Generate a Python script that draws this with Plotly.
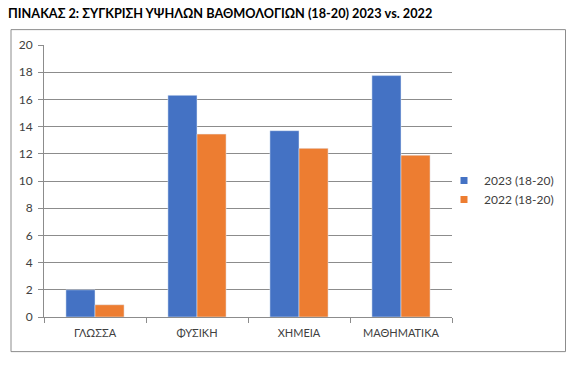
import plotly.graph_objects as go

categories = ["ΓΛΩΣΣΑ", "ΦΥΣΙΚΗ", "ΧΗΜΕΙΑ", "ΜΑΘΗΜΑΤΙΚΑ"]
series_2023 = [2.0, 16.3, 13.7, 17.75]
series_2022 = [0.9, 13.45, 12.4, 11.9]
name_2023 = "2023 (18-20)"
name_2022 = "2022 (18-20)"
y_ticks = [0, 2, 4, 6, 8, 10, 12, 14, 16, 18, 20]
title_text = "ΠΙΝΑΚΑΣ 2: ΣΥΓΚΡΙΣΗ ΥΨΗΛΩΝ ΒΑΘΜΟΛΟΓΙΩΝ (18-20) 2023 vs. 2022"

FONT = "Lato, 'Open Sans', sans-serif"
BLUE, ORANGE = "#4472C4", "#ED7D31"
W, H = 577, 366
L, R, T, B = 44, 452, 44.7, 317.3

fig = go.Figure()
fig.add_trace(go.Bar(x=categories, y=series_2023, name=name_2023, marker_color=BLUE, showlegend=False))
fig.add_trace(go.Bar(x=categories, y=series_2022, name=name_2022, marker_color=ORANGE, showlegend=False))
# legend entries with small square swatches
fig.add_trace(go.Scatter(x=[None], y=[None], mode="markers", name=name_2023,
                         marker=dict(symbol="square", size=7, color=BLUE)))
fig.add_trace(go.Scatter(x=[None], y=[None], mode="markers", name=name_2022,
                         marker=dict(symbol="square", size=7, color=ORANGE)))

pw, ph = R - L, B - T
def px_x(x):
    return (x - L) / pw
def px_y(y):
    return (B - y) / ph

fig.add_shape(type="rect", xref="paper", yref="paper",
              x0=px_x(11), x1=px_x(565.5), y0=px_y(352), y1=px_y(29.3),
              line=dict(color="#8c8c8c", width=1), fillcolor="rgba(0,0,0,0)", layer="below")

fig.update_layout(
    width=W, height=H,
    margin=dict(l=L, r=W - R, t=T, b=H - B, pad=0),
    paper_bgcolor="white", plot_bgcolor="white",
    barmode="group", bargap=0.43, bargroupgap=0,
    font=dict(family=FONT, size=12, color="#404040"),
    title=dict(text="<b>" + title_text + "</b>", xref="container", yref="container",
               x=8 / W, xanchor="left", y=1 - 14 / H, yanchor="middle",
               font=dict(family=FONT, size=12.7, color="#000000")),
    legend=dict(x=px_x(444), xanchor="left", y=px_y(190), yanchor="middle",
                font=dict(family=FONT, size=12, color="#404040"),
                bgcolor="rgba(0,0,0,0)", tracegroupgap=4, itemwidth=30),
    showlegend=True,
)
fig.update_xaxes(showgrid=False, showline=True, linecolor="#8c8c8c", linewidth=1,
                 ticks="outside", ticklen=5, tickcolor="#8c8c8c", tickson="boundaries",
                 tickfont=dict(family=FONT, size=11, color="#404040"), ticklabelstandoff=6)
fig.update_yaxes(range=[0, 20], tickvals=y_ticks, showgrid=True, gridcolor="#8c8c8c", gridwidth=1,
                 showline=True, linecolor="#8c8c8c", linewidth=1, zeroline=False,
                 ticks="outside", ticklen=5, tickcolor="#8c8c8c",
                 tickfont=dict(family=FONT, size=12, color="#404040"), ticklabelstandoff=3)

fig.write_html("out.html", config={"displayModeBar": False},
               post_script="document.body.style.margin='0';")
